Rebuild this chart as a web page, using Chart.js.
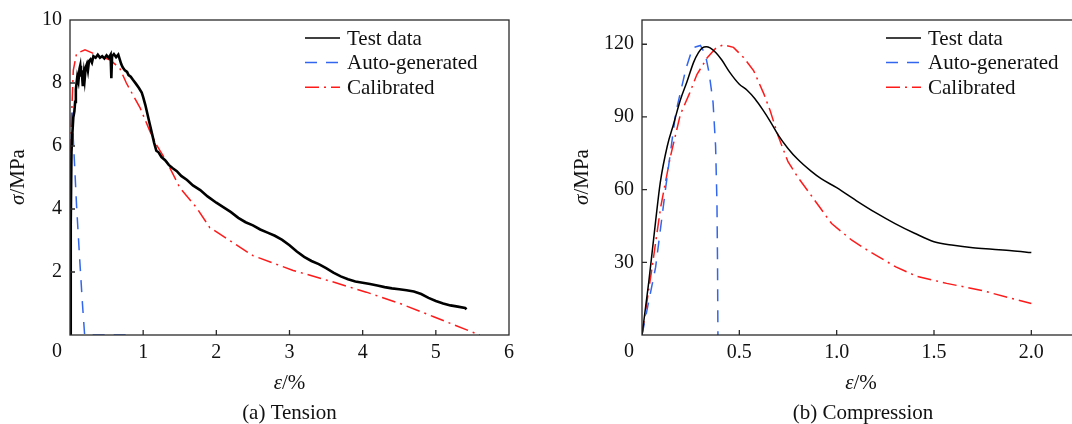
<!DOCTYPE html>
<html><head><meta charset="utf-8">
<script src="https://cdn.jsdelivr.net/npm/chart.js@4.4.1/dist/chart.umd.min.js"></script>
<style>
html,body{margin:0;padding:0;background:#fff;overflow:hidden;width:1072px;height:424px;}
canvas{position:absolute;top:0;}
#ca{left:0;}
#cb{left:536px;}
</style></head><body>
<canvas id="ca" width="536" height="424"></canvas>
<canvas id="cb" width="560" height="424"></canvas>
<script>
// ---------- (a) Tension ----------
const tensionTestStrain = [0,0.01,0.02,0.03,0.045,0.06,0.07,0.08,0.09,0.1,0.115,0.13,0.14,0.15,0.16,0.175,0.19,0.2,0.215,0.23,0.245,0.26,0.28,0.3,0.32,0.35,0.38,0.41,0.44,0.47,0.5,0.53,0.555,0.565,0.575,0.6,0.63,0.66,0.68,0.7,0.72,0.75,0.78,0.8,0.83,0.86,0.9,0.94,0.98,1.0,1.03,1.06,1.09,1.12,1.15,1.18,1.21,1.25,1.3,1.35,1.4,1.46,1.52,1.6,1.68,1.78,1.88,2.0,2.1,2.2,2.3,2.4,2.5,2.6,2.7,2.8,2.9,3.0,3.1,3.2,3.3,3.4,3.5,3.6,3.7,3.8,3.9,4.0,4.1,4.2,4.3,4.4,4.5,4.6,4.7,4.8,4.9,5.0,5.1,5.2,5.3,5.4,5.42];
const tensionTestStress = [0,3.5,5.8,6.3,6.9,7.1,7.4,7.8,8.0,8.2,8.05,8.45,8.55,8.2,8.4,7.9,8.3,8.1,8.5,8.6,8.4,8.7,8.75,8.65,8.85,8.8,8.9,8.8,8.85,8.78,8.88,8.8,8.9,8.15,8.85,8.92,8.82,8.9,8.75,8.6,8.5,8.4,8.35,8.25,8.2,8.1,7.98,7.85,7.7,7.55,7.3,7.0,6.7,6.4,6.1,5.85,5.8,5.65,5.55,5.4,5.3,5.2,5.05,4.92,4.75,4.6,4.4,4.2,4.05,3.9,3.72,3.58,3.48,3.35,3.25,3.15,3.02,2.85,2.65,2.48,2.35,2.25,2.12,1.98,1.86,1.77,1.7,1.66,1.62,1.57,1.52,1.48,1.45,1.42,1.38,1.3,1.18,1.08,1.0,0.94,0.9,0.86,0.82];
const tensionAutoStrain = [0,0.023,0.05,0.09,0.13,0.17,0.2,0.78];
const tensionAutoStress = [0,7.2,6.0,4.1,2.5,1.0,0,0];
const tensionCalStrain = [0,0.003,0.015,0.045,0.09,0.205,0.32,0.55,0.68,0.77,0.96,1.09,1.18,1.32,1.5,1.73,1.91,2.05,2.5,3.05,3.6,4.05,4.51,4.97,5.6];
const tensionCalStress = [0,3.0,6.5,8.4,8.94,9.05,8.94,8.73,8.47,8.0,7.2,6.48,6.04,5.51,4.68,4.04,3.41,3.2,2.52,2.05,1.68,1.36,1.0,0.58,0];
const tensionXTicks = [0,1,2,3,4,5,6];
const tensionYTicks = [0,2,4,6,8,10];

// ---------- (b) Compression ----------
const compTestStrain = [0,0.035,0.07,0.094,0.13,0.162,0.197,0.231,0.265,0.29,0.31,0.33,0.35,0.38,0.41,0.45,0.5,0.54,0.58,0.62,0.66,0.7,0.75,0.8,0.87,0.92,1.0,1.1,1.2,1.3,1.4,1.5,1.6,1.7,1.8,1.9,2.0];
const compTestStress = [0,22,47,63,78,87,97,104.5,112.5,116.5,118.5,119,118.5,116.5,113.5,108.5,103.5,101,97.5,93,88,82.5,77,72.5,67.5,64.5,60.8,55.5,50.5,46,42,38.5,37,36,35.4,34.8,34];
const compAutoStrain = [0,0.07,0.122,0.174,0.226,0.26,0.3,0.325,0.345,0.365,0.378,0.385,0.388,0.39];
const compAutoStress = [0,28,61,92,110,118.5,119.5,116,108,96,78,55,30,0];
const compCalStrain = [0,0.052,0.096,0.145,0.197,0.243,0.282,0.334,0.38,0.419,0.47,0.522,0.574,0.626,0.659,0.7,0.75,0.8,0.887,0.974,1.078,1.172,1.304,1.412,1.565,1.739,2.0];
const compCalStress = [0,28,52.8,73.3,91,99.5,107.5,114.3,118.5,119.8,118.7,114.5,109,99.5,92.4,82,71.5,65.2,55.6,46,39.1,34.3,28.1,24.2,21.3,18.5,13];
const compXTicks = [0,0.5,1.0,1.5,2.0];
const compYTicks = [0,30,60,90,120];

const seriesNames = ['Test data','Auto-generated','Calibrated'];

const FONT = '"Liberation Serif","Times New Roman",Times,serif';
const BLUE = '#3366ee';
const RED = '#ff1a1a';
const AXIS = '#2a2a2a';

function pts(xs, ys){ return xs.map((x,i)=>({x:x, y:ys[i]})); }

function drawParts(ctx, parts, size){
  let total = 0;
  const ws = parts.map(p=>{ ctx.font=(p.i?'italic ':'')+size+'px '+FONT; const w=ctx.measureText(p.t).width; total+=w; return w; });
  let x = -total/2;
  ctx.textAlign='left'; ctx.textBaseline='middle';
  parts.forEach((p,k)=>{ ctx.font=(p.i?'italic ':'')+size+'px '+FONT; ctx.fillText(p.t, x, 0); x += ws[k]; });
}

function makeDeco(cfg){
  return {
    id:'deco',
    afterDatasetsDraw(chart){
      const ctx = chart.ctx, a = chart.chartArea, xs = chart.scales.x, ys = chart.scales.y;
      ctx.save();
      // frame
      ctx.strokeStyle = AXIS; ctx.lineWidth = 1.3; ctx.setLineDash([]);
      ctx.strokeRect(a.left, a.top, a.right-a.left, a.bottom-a.top);
      // inward ticks
      ctx.beginPath();
      xs.ticks.forEach(t=>{ if(t.value<=xs.min||t.value>=xs.max) return; const p=xs.getPixelForValue(t.value); ctx.moveTo(p,a.bottom); ctx.lineTo(p,a.bottom-5); });
      ys.ticks.forEach(t=>{ if(t.value<=ys.min||t.value>=ys.max) return; const p=ys.getPixelForValue(t.value); ctx.moveTo(a.left,p); ctx.lineTo(a.left+5,p); });
      ctx.stroke();
      // shared origin label
      ctx.fillStyle = '#111';
      ctx.font = '20px '+FONT; ctx.textAlign='center'; ctx.textBaseline='middle';
      ctx.fillText('0', a.left-13, 352);
      // axis titles
      ctx.save(); ctx.translate(cfg.yTitleX, 177); ctx.rotate(-Math.PI/2);
      drawParts(ctx, [{t:'σ',i:true},{t:'/MPa'}], 21); ctx.restore();
      const cx = (a.left + a.right)/2;
      ctx.save(); ctx.translate(cx, 383); drawParts(ctx, [{t:'ε',i:true},{t:'/%'}], 21); ctx.restore();
      ctx.save(); ctx.translate(cx + cfg.subShift, 413); drawParts(ctx, [{t:cfg.subtitle}], 21); ctx.restore();
      // legend
      chart.data.datasets.forEach((d,k)=>{
        const y = 38 + k*24.6;
        ctx.strokeStyle = d.borderColor; ctx.lineWidth = 1.5; ctx.setLineDash(d.borderDash||[]);
        ctx.beginPath(); ctx.moveTo(cfg.legendX, y); ctx.lineTo(cfg.legendX+35, y); ctx.stroke();
        ctx.setLineDash([]);
        ctx.fillStyle = '#111'; ctx.font = '21px '+FONT; ctx.textAlign='left'; ctx.textBaseline='middle';
        ctx.fillText(d.label, cfg.legendX+42, y+1);
      });
      ctx.restore();
    }
  };
}

function makeChart(id, data, xTicks, yTicks, xMax, yMax, xFmt, yAxisW, padRight, deco){
  return new Chart(document.getElementById(id), {
    type:'scatter',
    data:{ datasets: data },
    options:{
      responsive:false, animation:false, devicePixelRatio:1,
      layout:{ padding:{ left:0, top:18, right:padRight, bottom:0 } },
      plugins:{ legend:{display:false}, tooltip:{enabled:false} },
      elements:{ point:{ radius:0 } },
      scales:{
        x:{ type:'linear', min:0, max:xMax,
            grid:{ display:false, drawTicks:false }, border:{ display:false },
            afterBuildTicks:(s)=>{ s.ticks = xTicks.map(v=>({value:v})); },
            afterFit:(s)=>{ s.height = 89; },
            ticks:{ color:'#111', padding:6, font:{ family:FONT, size:20 }, maxRotation:0, autoSkip:false,
                    callback:(v)=> v===0 ? '' : xFmt(v) } },
        y:{ type:'linear', min:0, max:yMax,
            grid:{ display:false, drawTicks:false }, border:{ display:false },
            afterBuildTicks:(s)=>{ s.ticks = yTicks.map(v=>({value:v})); },
            afterFit:(s)=>{ s.width = yAxisW; },
            ticks:{ color:'#111', padding:8, font:{ family:FONT, size:20 }, autoSkip:false,
                    callback:(v)=> v===0 ? '' : String(v) } }
      }
    },
    plugins:[ makeDeco(deco) ]
  });
}

const common = { showLine:true, pointRadius:0, fill:false };

makeChart('ca', [
  Object.assign({ label:seriesNames[0], data:pts(tensionTestStrain,tensionTestStress), borderColor:'#000', borderWidth:2.6 }, common),
  Object.assign({ label:seriesNames[1], data:pts(tensionAutoStrain,tensionAutoStress), borderColor:BLUE, borderWidth:1.5, borderDash:[12,9] }, common),
  Object.assign({ label:seriesNames[2], data:pts(tensionCalStrain,tensionCalStress), borderColor:RED, borderWidth:1.5, borderDash:[14,5,2,5] }, common)
], tensionXTicks, tensionYTicks, 6, 10, v=>String(v), 70, 27, { yTitleX:18, legendX:305, subtitle:'(a) Tension', subShift:0 });

makeChart('cb', [
  Object.assign({ label:seriesNames[0], data:pts(compTestStrain,compTestStress), borderColor:'#000', borderWidth:1.5, cubicInterpolationMode:'monotone' }, common),
  Object.assign({ label:seriesNames[1], data:pts(compAutoStrain,compAutoStress), borderColor:BLUE, borderWidth:1.5, borderDash:[12,9] }, common),
  Object.assign({ label:seriesNames[2], data:pts(compCalStrain,compCalStress), borderColor:RED, borderWidth:1.5, borderDash:[14,5,2,5] }, common)
], compXTicks, compYTicks, 2.25, 130, v=>v.toFixed(1), 106, 16, { yTitleX:46, legendX:350, subtitle:'(b) Compression', subShift:2 });
</script>
</body></html>
